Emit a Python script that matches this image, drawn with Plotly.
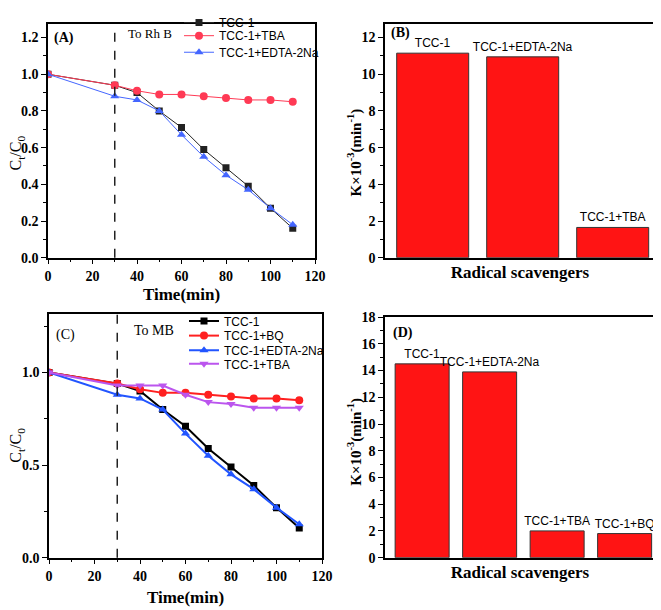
import plotly.graph_objects as go

# ---------------- data ----------------
time_min = [0, 30, 40, 50, 60, 70, 80, 90, 100, 110]

a_tcc1 = [1.00, 0.94, 0.90, 0.80, 0.71, 0.59, 0.49, 0.39, 0.27, 0.16]
a_tba = [1.00, 0.94, 0.91, 0.89, 0.89, 0.88, 0.87, 0.86, 0.86, 0.85]
a_edta = [1.00, 0.88, 0.86, 0.80, 0.67, 0.55, 0.45, 0.37, 0.27, 0.18]

c_tcc1 = [1.00, 0.94, 0.90, 0.80, 0.71, 0.59, 0.49, 0.39, 0.27, 0.16]
c_bq = [1.00, 0.94, 0.91, 0.89, 0.89, 0.88, 0.87, 0.86, 0.86, 0.85]
c_edta = [1.00, 0.88, 0.86, 0.80, 0.67, 0.55, 0.45, 0.37, 0.27, 0.18]
c_tba = [1.00, 0.93, 0.93, 0.93, 0.88, 0.84, 0.83, 0.81, 0.81, 0.81]

b_cats = ["TCC-1", "TCC-1+EDTA-2Na", "TCC-1+TBA"]
b_vals = [11.15, 10.95, 1.65]

d_cats = ["TCC-1", "TCC-1+EDTA-2Na", "TCC-1+TBA", "TCC-1+BQ"]
d_vals = [14.5, 13.9, 2.0, 1.8]

light_on_time = 30

# ---------------- style ----------------
SERIF = "Liberation Serif"
SANS = "Liberation Sans"
W, H = 661, 610
OFF = 8  # page body margin

def px_x(a, b):
    return [max(0, (a - OFF) / W), min(1, (b - OFF) / W)]

def px_y(top, bottom):
    return [max(0, 1 - (bottom - OFF) / H), min(1, 1 - (top - OFF) / H)]

def pxp(x, y):
    return (x - OFF) / W, 1 - (y - OFF) / H

fig = go.Figure()
legend_layout = {}
legend_count = [0]

def line(x, y, name, color, symbol, size, width, xa, ya, lx, ly):
    legend_count[0] += 1
    key = "legend" if legend_count[0] == 1 else f"legend{legend_count[0]}"
    fig.add_trace(go.Scatter(
        x=x, y=y, name=name, mode="lines+markers",
        line=dict(color=color, width=width),
        marker=dict(symbol=symbol, size=size, color=color),
        xaxis=xa, yaxis=ya, legend=key))
    px, py = pxp(lx, ly)
    legend_layout[key] = dict(x=px, y=py, xanchor="left", yanchor="middle",
                              bgcolor="rgba(0,0,0,0)",
                              font=dict(family=SANS, size=12, color="black"),
                              itemwidth=30)

# Panel A  (legend placement in page px)
line(time_min, a_tcc1, "TCC-1", "#222222", "square", 7, 1, "x", "y", 179, 6)
line(time_min, a_tba, "TCC-1+TBA", "#ff3a55", "circle", 8, 1, "x", "y", 179, 20)
line(time_min, a_edta, "TCC-1+EDTA-2Na", "#4466ff", "triangle-up", 8, 1, "x", "y", 179, 37)

# Panel C
line(time_min, c_tcc1, "TCC-1", "#000000", "square", 7, 2, "x3", "y3", 184, 313)
line(time_min, c_bq, "TCC-1+BQ", "#ff2020", "circle", 8, 2, "x3", "y3", 184, 328)
line(time_min, c_edta, "TCC-1+EDTA-2Na", "#2255ff", "triangle-up", 8, 2, "x3", "y3", 184, 343)
line(time_min, c_tba, "TCC-1+TBA", "#bb55ee", "triangle-down", 8, 2, "x3", "y3", 184, 357)

barfont = dict(family=SANS, size=12, color="black")

# Panel B bars
fig.add_trace(go.Bar(
    x=b_cats, y=b_vals, text=b_cats, textposition="outside", constraintext="none",
    cliponaxis=False, textfont=barfont,
    marker=dict(color="#ff1414", line=dict(color="#333333", width=1)),
    width=0.8, xaxis="x2", yaxis="y2", showlegend=False))

# Panel D bars
fig.add_trace(go.Bar(
    x=d_cats, y=d_vals, text=d_cats, textposition="outside", constraintext="none",
    cliponaxis=False, textfont=barfont,
    marker=dict(color="#ff1414", line=dict(color="#333333", width=1)),
    width=0.8, xaxis="x4", yaxis="y4", showlegend=False))

tickfont = dict(family=SERIF, size=14, color="black", weight="bold")
titlefont = dict(family=SERIF, size=17, color="black", weight="bold")

def axis(domain, rng, dtick, minor_dtick, title, standoff, **kw):
    d = dict(domain=domain, range=rng, showline=True, linecolor="black", linewidth=1.5,
             mirror=True, ticks="outside", ticklen=5, tickwidth=1.2, tickcolor="black",
             showgrid=False, zeroline=False, tickfont=tickfont, automargin=False,
             title=dict(text=title, font=titlefont, standoff=standoff))
    if dtick is not None:
        d["dtick"] = dtick
        d["tick0"] = 0
    if minor_dtick is not None:
        d["minor"] = dict(dtick=minor_dtick, ticks="outside", ticklen=3, tickcolor="black", showgrid=False)
    d.update(kw)
    return d

fig.update_layout(
    width=W, height=H, margin=dict(l=0, r=0, t=0, b=0),
    paper_bgcolor="white", plot_bgcolor="white", showlegend=True,
    xaxis=axis(px_x(48, 315), [0, 120], 20, 10, "Time(min)", 5, anchor="y"),
    yaxis=axis(px_y(8, 248), [0, 1.274], 0.2, 0.1, "", 6, anchor="x", tickformat=".1f"),
    xaxis2=axis(px_x(385, 655), [-0.53, 2.47], None, None, "Radical scavengers", 8,
                anchor="y2", showticklabels=False, ticks=""),
    yaxis2=axis(px_y(8, 248), [0, 12.74], 2, 1, "", 6, anchor="x2"),
    xaxis3=axis(px_x(49, 322), [0, 120], 20, 10, "Time(min)", 8, anchor="y3"),
    yaxis3=axis(px_y(306, 556), [0, 1.315], 0.5, 0.25, "", 6, anchor="x3", tickformat=".1f"),
    xaxis4=axis(px_x(385, 655), [-0.55, 3.45], None, None, "Radical scavengers", 8,
                anchor="y4", showticklabels=False, ticks=""),
    yaxis4=axis(px_y(309, 556), [0, 18], 2, 1, "", 6, anchor="x4"),
    **legend_layout,
)

# dashed reference lines
for xr, yr in [("x", "y domain"), ("x3", "y3 domain")]:
    fig.add_shape(type="line", xref=xr, yref=yr, x0=light_on_time, x1=light_on_time, y0=0, y1=1,
                  line=dict(color="#222222", width=1.5, dash="dash"))

def ann(text, x, y, size, xanchor="left", angle=0, bold=False):
    px, py = pxp(x, y)
    fig.add_annotation(xref="paper", yref="paper", x=px, y=py, text=text, showarrow=False,
                       xanchor=xanchor, yanchor="middle", textangle=angle,
                       font=dict(family=SERIF, size=size, color="black",
                                 weight="bold" if bold else "normal"))

ann("To Rh B", 126, 18, 13)
ann("To MB", 132, 323, 14)
ann("(A)", 52, 22, 14, bold=True)
ann("(B)", 389, 17, 14, bold=True)
ann("(C)", 54, 327, 14)
ann("(D)", 391, 325, 14, bold=True)

# y-axis titles
ann("C<sub>t</sub>/C<sub>0</sub>", 17, 141, 16, xanchor="center", angle=-90)
ann("C<sub>t</sub>/C<sub>0</sub>", 17, 441, 16, xanchor="center", angle=-90)
ann("K×10<sup>-3</sup>(min<sup>-1</sup>)", 355, 140, 15, xanchor="center", angle=-90, bold=True)
ann("K×10<sup>-3</sup>(min<sup>-1</sup>)", 355, 437, 15, xanchor="center", angle=-90, bold=True)

fig.write_html("out.html")
